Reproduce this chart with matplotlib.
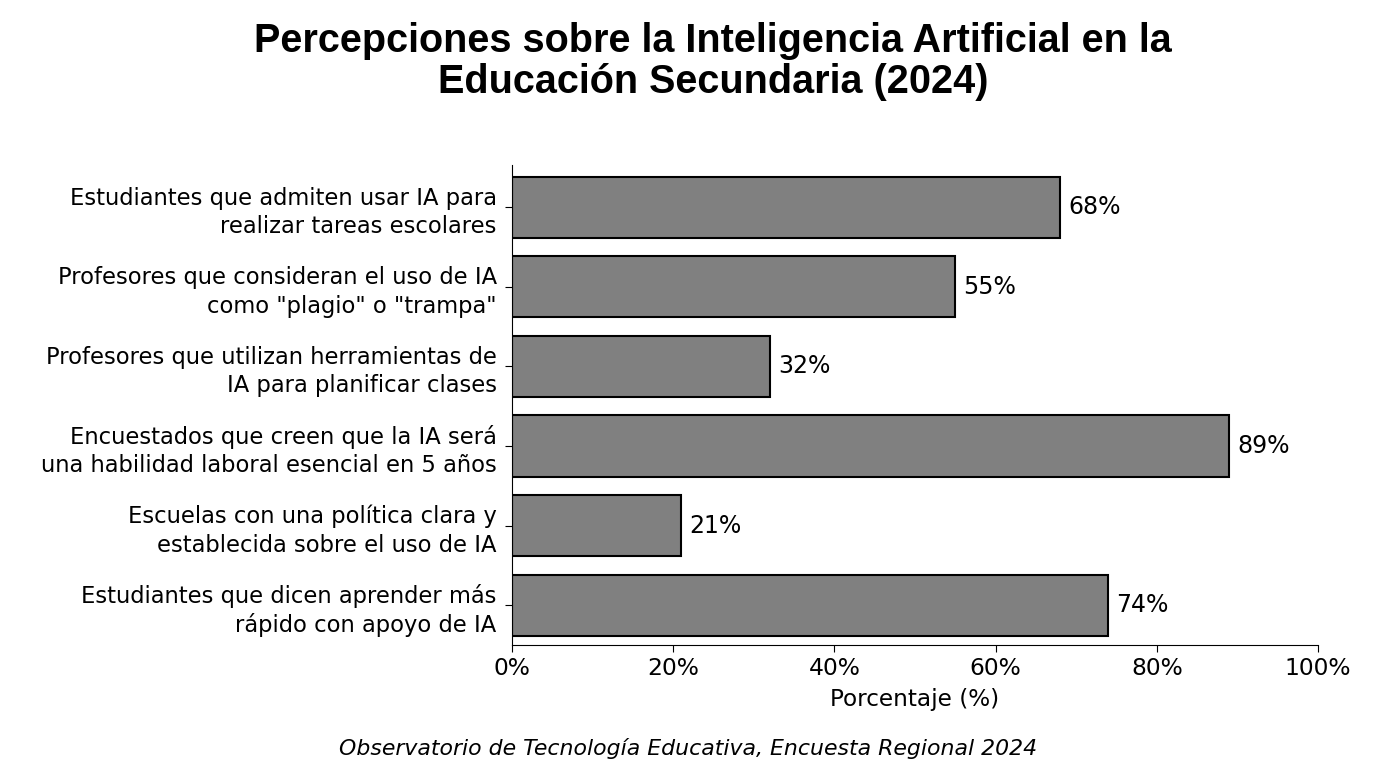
import matplotlib
matplotlib.use("Agg")
import matplotlib.pyplot as plt
from matplotlib.ticker import FuncFormatter

# Data
categories = [
    "Estudiantes que admiten usar IA para\nrealizar tareas escolares",
    "Profesores que consideran el uso de IA\ncomo \"plagio\" o \"trampa\"",
    "Profesores que utilizan herramientas de\nIA para planificar clases",
    "Encuestados que creen que la IA será\nuna habilidad laboral esencial en 5 años",
    "Escuelas con una política clara y\nestablecida sobre el uso de IA",
    "Estudiantes que dicen aprender más\nrápido con apoyo de IA",
]
values = [68, 55, 32, 89, 21, 74]
x_ticks = [0, 20, 40, 60, 80, 100]

title = "Percepciones sobre la Inteligencia Artificial en la\nEducación Secundaria (2024)"
footer = "Observatorio de Tecnología Educativa, Encuesta Regional 2024"

fig = plt.figure(figsize=(13.76, 7.68), dpi=100)
ax = fig.add_axes([512 / 1376, 1 - 645 / 768, (1318 - 512) / 1376, (645 - 165) / 768])

y = list(range(len(categories)))
ax.barh(y, values, height=0.77, color="#808080", edgecolor="black", linewidth=1.5)

for yi, v in zip(y, values):
    ax.text(v + 1.0, yi, f"{v}%", va="center", ha="left", fontsize=17)

ax.set_yticks(y)
ax.set_yticklabels(categories, fontsize=16.3, linespacing=1.3)
ax.set_ylim(5.5, -0.53)
ax.set_xlim(0, 100)
ax.set_xticks(x_ticks)
ax.xaxis.set_major_formatter(FuncFormatter(lambda v, _: f"{v:.0f}%"))
ax.tick_params(axis="x", labelsize=16.8, length=5)
ax.tick_params(axis="y", length=5, pad=6)
ax.set_xlabel("Porcentaje (%)", fontsize=16.7, labelpad=6)

ax.spines["top"].set_visible(False)
ax.spines["right"].set_visible(False)

fig.text(0.518, 0.972, title, ha="center", va="top", fontsize=28.5,
         fontweight="bold", family="Liberation Sans", linespacing=1.12)
fig.text(0.5, 0.026, footer, ha="center", va="center", fontsize=15.8, style="italic")

fig.savefig("out.png", dpi=100)
